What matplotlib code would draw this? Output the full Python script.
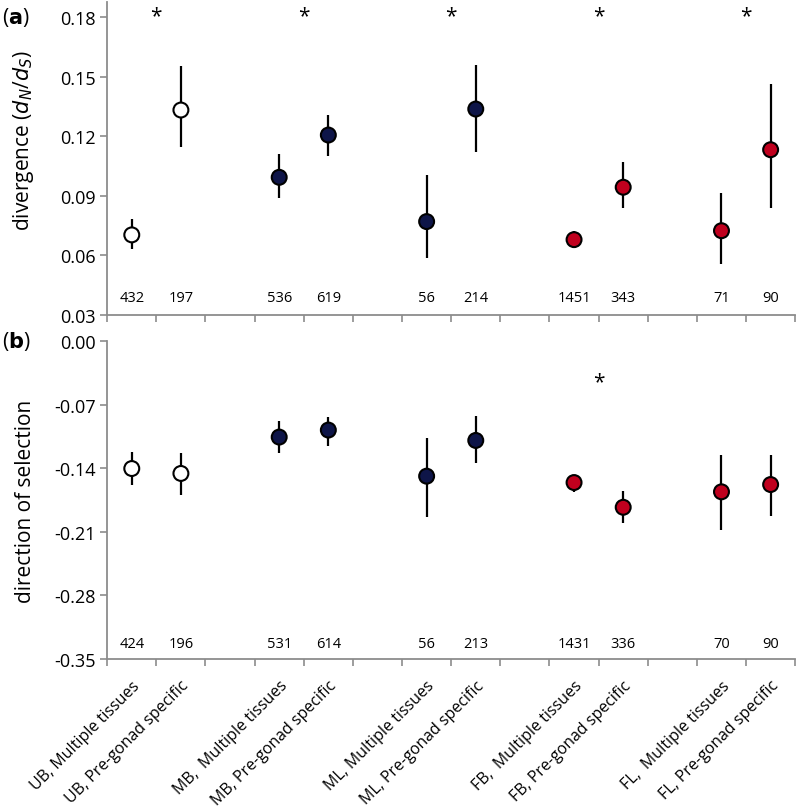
import numpy as np
import matplotlib
matplotlib.use("Agg")
import matplotlib.pyplot as plt

# categories (empty slots separate the five groups)
labels = ["UB, Multiple tissues", "UB, Pre-gonad specific", "",
          "MB,  Multiple tissues", "MB, Pre-gonad specific", "",
          "ML, Multiple tissues", "ML, Pre-gonad specific", "",
          "FB,  Multiple tissues", "FB, Pre-gonad specific", "",
          "FL,  Multiple tissues", "FL, Pre-gonad specific"]
slots = [0, 1, 3, 4, 6, 7, 9, 10, 12, 13]
colors = ["white", "white", "#0e1548", "#0e1548", "#0e1548", "#0e1548",
          "#c0001e", "#c0001e", "#c0001e", "#c0001e"]

# panel (a): dN/dS
div_mean = [0.0703, 0.1332, 0.0993, 0.1206, 0.0770, 0.1337, 0.0679, 0.0943, 0.0724, 0.1132]
div_hi = [0.0783, 0.1555, 0.1110, 0.1307, 0.1005, 0.1560, 0.0724, 0.1072, 0.0914, 0.1463]
div_lo = [0.0632, 0.1144, 0.0889, 0.1102, 0.0587, 0.1122, 0.0636, 0.0839, 0.0557, 0.0839]
div_n = [432, 197, 536, 619, 56, 214, 1451, 343, 71, 90]
div_star = [0.5, 3.5, 6.5, 9.5, 12.5]

# panel (b): direction of selection
dos_mean = [-0.1404, -0.1458, -0.1058, -0.0981, -0.1488, -0.1095, -0.1558, -0.1830, -0.1660, -0.1580]
dos_hi = [-0.1227, -0.1234, -0.0882, -0.0834, -0.1073, -0.0827, -0.1506, -0.1654, -0.1257, -0.1257]
dos_lo = [-0.1587, -0.1698, -0.1238, -0.1153, -0.1936, -0.1348, -0.1660, -0.2006, -0.2079, -0.1929]
dos_n = [424, 196, 531, 614, 56, 213, 1431, 336, 70, 90]
dos_star = [9.5]

plt.rcParams['font.family'] = ['Open Sans', 'DejaVu Sans']
grey = "#8c8c8c"

fig = plt.figure(figsize=(8, 8.12), dpi=100)
ax1 = fig.add_axes([0.134, 0.611, 0.86, 0.385])
ax2 = fig.add_axes([0.134, 0.187, 0.86, 0.392])


def draw_panel(ax, mean, hi, lo, n, stars, ylim, yticks, fmt, n_y, star_y):
    mean = np.array(mean)
    yerr = [mean - np.array(lo), np.array(hi) - mean]
    ax.errorbar(slots, mean, yerr=yerr, fmt="none", ecolor="black", elinewidth=1.6, zorder=2)
    ax.scatter(slots, mean, s=115, c=colors, edgecolors="black", linewidths=1.5, zorder=3)
    for x, v in zip(slots, n):
        ax.text(x, n_y, str(v), ha="center", va="center", fontsize=10.5)
    for x in stars:
        ax.text(x, star_y, "*", ha="center", va="center", fontsize=15)
    ax.set_xlim(-0.5, 13.5)
    ax.set_ylim(*ylim)
    ax.set_yticks(yticks)
    ax.set_yticklabels([fmt.format(t) for t in yticks], fontsize=13)
    ax.set_xticks(np.arange(-0.5, 14, 1))
    ax.set_xticklabels([])
    ax.tick_params(axis="both", color=grey, length=5, width=1.2)
    ax.tick_params(axis="x", direction="out")
    for s in ["top", "right"]:
        ax.spines[s].set_visible(False)
    for s in ["left", "bottom"]:
        ax.spines[s].set_color(grey)
        ax.spines[s].set_linewidth(1.3)


draw_panel(ax1, div_mean, div_hi, div_lo, div_n, div_star, (0.03, 0.1875),
           [0.03, 0.06, 0.09, 0.12, 0.15, 0.18], "{:.2f}", 0.039, 0.1805)
draw_panel(ax2, dos_mean, dos_hi, dos_lo, dos_n, dos_star, (-0.35, 0.0),
           [-0.35, -0.28, -0.21, -0.14, -0.07, 0.0], "{:.2f}", -0.3333, -0.0448)

ax1.set_ylabel(r"divergence ($d_N$/$d_S$)", fontsize=15)
ax2.set_ylabel("direction of selection", fontsize=15)
ax1.yaxis.set_label_coords(-0.103, 0.56)
ax2.yaxis.set_label_coords(-0.103, 0.5)

ax2.set_xticks(np.arange(14), minor=True)
ax2.set_xticklabels(labels, minor=True, rotation=45, ha="right", va="top",
                    rotation_mode="anchor", fontsize=11.5)
ax2.tick_params(axis="x", which="minor", length=0, pad=13)

fig.text(0.003, 0.978, r"($\bf{a}$)", fontsize=15, va="center")
fig.text(0.003, 0.579, r"($\bf{b}$)", fontsize=15, va="center")

fig.savefig("out.png", dpi=100)
